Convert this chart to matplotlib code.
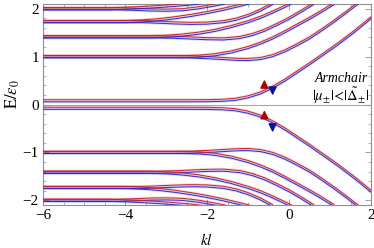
import matplotlib
matplotlib.use("Agg")
import matplotlib.pyplot as plt
import numpy as np
from matplotlib.ticker import MultipleLocator

plt.rcParams['font.family'] = ['Liberation Serif', 'DejaVu Serif']
plt.rcParams['mathtext.fontset'] = 'stix'

# ---- data: band centres (E/eps0) vs kl ----
# upper (electron-like) bands
k_up0 = [-6, -2.5, -2, -1.6, -1.3, -1.0, -0.7, -0.4, -0.1, 0.2, 0.5, 0.8, 1.2, 1.6, 2.0]
e_up0 = [0.078, 0.078, 0.08, 0.09, 0.11, 0.16, 0.24, 0.36, 0.51, 0.68, 0.85, 1.03, 1.27, 1.53, 1.81]

k_upN1 = [-6, -2.8, -2.4, -2.0, -1.6, -1.3, -1.0, -0.7, -0.4, -0.1, 0.2, 0.5, 0.8, 1.1, 1.4, 1.7]
e_upN1 = [1.0, 1.0, 0.995, 0.98, 0.96, 0.945, 0.94, 0.96, 1.02, 1.12, 1.25, 1.39, 1.56, 1.74, 1.93, 2.13]

k_upR1 = [-6, -2.6, -2.2, -1.8, -1.4, -1.0, -0.7, -0.4, -0.1, 0.2, 0.5, 0.8, 1.1]
e_upR1 = [1.0, 1.0, 1.01, 1.04, 1.10, 1.19, 1.28, 1.39, 1.52, 1.66, 1.80, 1.95, 2.11]

k_upN2 = [-6, -3.2, -2.8, -2.4, -2.0, -1.6, -1.2, -0.9, -0.6, -0.3, 0.0, 0.3, 0.6]
e_upN2 = [1.414, 1.414, 1.405, 1.39, 1.375, 1.37, 1.40, 1.46, 1.55, 1.67, 1.80, 1.95, 2.11]

k_upR2 = [-6, -3.4, -3.0, -2.6, -2.2, -1.8, -1.4, -1.0, -0.7, -0.4, -0.1, 0.1]
e_upR2 = [1.414, 1.414, 1.425, 1.45, 1.49, 1.55, 1.63, 1.73, 1.82, 1.93, 2.05, 2.14]

k_upN3 = [-6, -3.6, -3.2, -2.8, -2.4, -2.0, -1.6, -1.3, -1.0, -0.7, -0.4]
e_upN3 = [1.732, 1.732, 1.72, 1.705, 1.695, 1.70, 1.73, 1.78, 1.86, 1.97, 2.11]

k_upR3 = [-6, -4.0, -3.6, -3.2, -2.8, -2.4, -2.0, -1.6, -1.2, -0.9]
e_upR3 = [1.732, 1.732, 1.745, 1.77, 1.81, 1.86, 1.92, 1.99, 2.07, 2.14]

k_upN4 = [-6, -4.2, -3.8, -3.4, -3.0, -2.6, -2.2, -1.8, -1.4]
e_upN4 = [2.0, 2.0, 1.99, 1.975, 1.97, 1.98, 2.02, 2.08, 2.15]

k_upR4 = [-6, -4.4, -4.0, -3.6, -3.2, -2.8, -2.4, -2.0]
e_upR4 = [2.0, 2.0, 2.01, 2.025, 2.045, 2.07, 2.10, 2.14]

# lower (hole-like) bands
k_dn0 = [-6, -2.5, -2, -1.6, -1.3, -1.0, -0.7, -0.4, -0.1, 0.2, 0.5, 0.8, 1.2, 1.6, 2.0]
e_dn0 = [-0.078, -0.078, -0.08, -0.09, -0.11, -0.16, -0.24, -0.36, -0.51, -0.68, -0.85, -1.03, -1.27, -1.53, -1.81]

k_dnN1 = [-6, -2.8, -2.4, -2.0, -1.6, -1.3, -1.0, -0.7, -0.4, -0.1, 0.2, 0.5, 0.8, 1.1, 1.4, 1.7]
e_dnN1 = [-1.0, -1.0, -0.995, -0.98, -0.96, -0.945, -0.94, -0.96, -1.02, -1.12, -1.25, -1.39, -1.56, -1.74, -1.93, -2.13]

k_dnR1 = [-6, -2.6, -2.2, -1.8, -1.4, -1.0, -0.7, -0.4, -0.1, 0.2, 0.5, 0.8, 1.1]
e_dnR1 = [-1.0, -1.0, -1.01, -1.04, -1.10, -1.19, -1.28, -1.39, -1.52, -1.66, -1.80, -1.95, -2.11]

k_dnN2 = [-6, -3.2, -2.8, -2.4, -2.0, -1.6, -1.2, -0.9, -0.6, -0.3, 0.0, 0.3, 0.6]
e_dnN2 = [-1.414, -1.414, -1.405, -1.39, -1.375, -1.37, -1.40, -1.46, -1.55, -1.67, -1.80, -1.95, -2.11]

k_dnR2 = [-6, -3.4, -3.0, -2.6, -2.2, -1.8, -1.4, -1.0, -0.7, -0.4, -0.1, 0.1]
e_dnR2 = [-1.414, -1.414, -1.425, -1.45, -1.49, -1.55, -1.63, -1.73, -1.82, -1.93, -2.05, -2.14]

k_dnN3 = [-6, -3.6, -3.2, -2.8, -2.4, -2.0, -1.6, -1.3, -1.0, -0.7, -0.4]
e_dnN3 = [-1.732, -1.732, -1.72, -1.705, -1.695, -1.70, -1.73, -1.78, -1.86, -1.97, -2.11]

k_dnR3 = [-6, -4.0, -3.6, -3.2, -2.8, -2.4, -2.0, -1.6, -1.2, -0.9]
e_dnR3 = [-1.732, -1.732, -1.745, -1.77, -1.81, -1.86, -1.92, -1.99, -2.07, -2.14]

k_dnN4 = [-6, -4.2, -3.8, -3.4, -3.0, -2.6, -2.2, -1.8, -1.4]
e_dnN4 = [-2.0, -2.0, -1.99, -1.975, -1.97, -1.98, -2.02, -2.08, -2.15]

k_dnR4 = [-6, -4.4, -4.0, -3.6, -3.2, -2.8, -2.4, -2.0]
e_dnR4 = [-2.0, -2.0, -2.01, -2.025, -2.045, -2.07, -2.10, -2.14]

spin_split = 0.022   # half spacing between spin-up (red) and spin-down (blue)

x_ticks = [-6, -4, -2, 0, 2]
y_ticks = [-2, -1, 0, 1, 2]

bands = [
    (k_up0, e_up0), (k_upN1, e_upN1), (k_upR1, e_upR1), (k_upN2, e_upN2), (k_upR2, e_upR2),
    (k_upN3, e_upN3), (k_upR3, e_upR3), (k_upN4, e_upN4), (k_upR4, e_upR4),
    (k_dn0, e_dn0), (k_dnN1, e_dnN1), (k_dnR1, e_dnR1), (k_dnN2, e_dnN2), (k_dnR2, e_dnR2),
    (k_dnN3, e_dnN3), (k_dnR3, e_dnR3), (k_dnN4, e_dnN4), (k_dnR4, e_dnR4),
]

RED = '#c8202a'
BLUE = '#2a2ad0'

fig = plt.figure(figsize=(3.74, 2.48), dpi=100)
ax = fig.add_axes([0.115, 0.173, 0.877, 0.811])

ax.axhline(0, color='#a8a8a8', lw=0.8, zorder=1)

for k, e in bands:
    k = np.asarray(k, float)
    e = np.asarray(e, float)
    for sgn, col in ((1, RED), (-1, BLUE)):
        y = e + sgn * spin_split
        ax.plot(k, y, color=col, lw=2.0, alpha=0.16, solid_capstyle='butt', zorder=2)
        ax.plot(k, y, color=col, lw=0.7, zorder=3)

# spin arrows
arr = dict(arrowstyle='-|>,head_length=0.5,head_width=0.25', lw=1.0, shrinkA=0, shrinkB=0)
ax.annotate('', xy=(-0.6, 0.52), xytext=(-0.6, 0.37), arrowprops=dict(color='#b00000', **arr), zorder=5)
ax.annotate('', xy=(-0.4, 0.19), xytext=(-0.4, 0.34), arrowprops=dict(color='#1010a0', **arr), zorder=5)
ax.annotate('', xy=(-0.6, -0.12), xytext=(-0.6, -0.26), arrowprops=dict(color='#b00000', **arr), zorder=5)
ax.annotate('', xy=(-0.4, -0.58), xytext=(-0.4, -0.44), arrowprops=dict(color='#1010a0', **arr), zorder=5)

ax.text(1.93, 0.55, 'Armchair', ha='right', va='center', fontsize=10, style='italic')
ax.text(1.95, 0.19, r'$|\mu_{\pm}|\!<\!|\tilde{\Delta}_{\pm}|$', ha='right', va='center', fontsize=10.5)

ax.set_xlim(-6, 2)
ax.set_ylim(-2.1, 2.1)
ax.set_xticks(x_ticks)
ax.set_yticks(y_ticks)
ax.xaxis.set_minor_locator(MultipleLocator(0.5))
ax.yaxis.set_minor_locator(MultipleLocator(0.2))
ax.tick_params(which='both', direction='in', top=True, right=True, color='#909090',
               labelsize=11, pad=3)
ax.tick_params(which='major', length=4, width=0.6)
ax.tick_params(which='minor', length=2, width=0.5)
for s in ax.spines.values():
    s.set_color('#909090')
    s.set_linewidth(0.8)

ax.set_xlabel(r'$kl$', fontsize=11, labelpad=7)
ax.set_ylabel(r'$\mathrm{E}/\epsilon_0$', fontsize=12, labelpad=2)
ax.yaxis.set_label_coords(-0.064, 0.55)

fig.savefig('out.png', dpi=100)
